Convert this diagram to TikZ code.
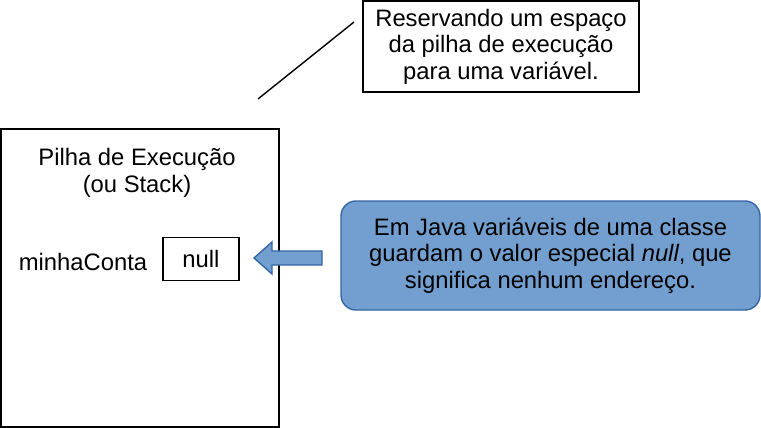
\documentclass[tikz,border=0pt]{standalone}
\usepackage{fontspec}
\setmainfont{Liberation Sans}
\definecolor{bluefill}{HTML}{729FCF}
\definecolor{blueline}{HTML}{3465A4}
\tikzset{
  txt/.style={font=\fontsize{23.8}{26.5}\selectfont, align=center, inner sep=0pt},
  plainbox/.style={draw=black, line width=1.4pt, fill=white, inner sep=0pt},
  bluebox/.style={draw=blueline, line width=1.4pt, fill=bluefill, rounded corners=15pt, inner sep=0pt},
  blockarrow/.style={draw=blueline, line width=1.4pt, fill=bluefill, line join=miter},
}
\begin{document}
\begin{tikzpicture}[x=1pt,y=-1pt]
\useasboundingbox (0,0) rectangle (761,428);
% stack box
\node[plainbox, minimum width=278pt, minimum height=298pt] (stack) at (140,278) {};
\node[txt] (title) at (137,173) {Pilha de Execução\\(ou Stack)};
\node[txt] (var) at (83,262) {minhaConta};
\node[plainbox, minimum width=76pt, minimum height=43pt, txt] (null) at (201,259) {null};
% callout
\node[plainbox, minimum width=276pt, minimum height=91pt, txt] (callout) at (501,46.5) {Reservando um espaço\\da pilha de execução\\para uma variável.};
\coordinate (la) at (258,99);
\coordinate (lb) at (354,22);
\draw[line width=1.4pt] (la) -- (lb);
% blue note
\node[bluebox, minimum width=419pt, minimum height=109pt, txt] (note) at (550.5,255.5) {Em Java variáveis de uma classe\\guardam o valor especial \textit{null}, que\\significa nenhum endereço.};
% block arrow
\coordinate (tip) at (254,258);
\draw[blockarrow] (tip) -- (272,242) -- (272,251) -- (322,251) -- (322,265) -- (272,265) -- (272,274) -- cycle;
\end{tikzpicture}
\end{document}
